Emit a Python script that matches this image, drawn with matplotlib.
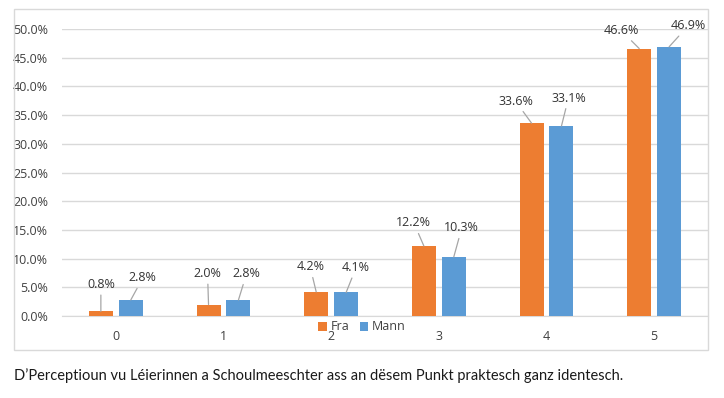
import matplotlib
matplotlib.use("Agg")
import matplotlib.pyplot as plt
import numpy as np
from matplotlib.patches import Rectangle

categories = ["0", "1", "2", "3", "4", "5"]
fra = [0.8, 2.0, 4.2, 12.2, 33.6, 46.6]
mann = [2.8, 2.8, 4.1, 10.3, 33.1, 46.9]
caption = "D’Perceptioun vu Léierinnen a Schoulmeeschter ass an dësem Punkt praktesch ganz identesch."

# label offsets in pixels (dx, dy) from the top of each bar
fra_off = [(0, 27), (-1, 31), (-6, 25), (-10, 23), (-16, 22), (-18, 18)]
mann_off = [(12, 22), (8, 26), (10, 25), (8, 29), (7, 28), (19, 21)]

orange = "#ED7D31"
blue = "#5B9BD5"
grid_c = "#D9D9D9"
txt_c = "#404040"

plt.rcParams['font.family'] = ['Open Sans', 'DejaVu Sans']

fig = plt.figure(figsize=(7.24, 3.98), dpi=100)
ax = fig.add_axes([62/724, 1-316/398, (708-62)/724, (316-29)/398])

x = np.arange(len(categories))
w = 0.223
b1 = ax.bar(x - 0.139, fra, w, color=orange, label="Fra", zorder=3)
b2 = ax.bar(x + 0.139, mann, w, color=blue, label="Mann", zorder=3)

ax.set_xlim(-0.5, len(categories) - 0.5)
ax.set_ylim(0, 50)
ax.set_yticks(np.arange(0, 50.1, 5))
ax.set_yticklabels(["%.1f%%" % v for v in np.arange(0, 50.1, 5)], fontsize=9, color=txt_c)
ax.set_xticks(x)
ax.set_xticklabels(categories, fontsize=9, color=txt_c)
ax.tick_params(axis='both', length=0)
ax.tick_params(axis='y', pad=10)
ax.tick_params(axis='x', pad=10)
ax.grid(axis='y', color=grid_c, linewidth=1, zorder=0)
for s in ["top", "right", "left"]:
    ax.spines[s].set_visible(False)
ax.spines["bottom"].set_color(grid_c)

def label(bars, vals, offs):
    for r, v, (dx, dy) in zip(bars, vals, offs):
        cx = r.get_x() + r.get_width() / 2
        ax.annotate("%.1f%%" % v, xy=(cx, v), xytext=(dx, dy),
                    textcoords='offset pixels', ha='center', va='center',
                    fontsize=9, color='#333333',
                    arrowprops=dict(arrowstyle='-', color='#A6A6A6', lw=0.9,
                                    shrinkA=1, shrinkB=0))

label(b1, fra, fra_off)
label(b2, mann, mann_off)

fig.legend(loc='center', bbox_to_anchor=(0.5, 1-327/398), ncol=2, frameon=False,
           fontsize=9, handlelength=0.7, handleheight=0.7, handletextpad=0.3,
           columnspacing=0.8, labelcolor=txt_c)

fig.patches.append(Rectangle((14/724, 1-350/398), (708-14)/724, (350-9)/398,
                             transform=fig.transFigure, fill=False,
                             edgecolor=grid_c, linewidth=1))

fig.text(14/724, 1-376/398, caption, fontsize=10.5, family=['Lato', 'DejaVu Sans'],
         color='#1a1a1a', ha='left', va='center')

fig.savefig("out.png", dpi=100)
